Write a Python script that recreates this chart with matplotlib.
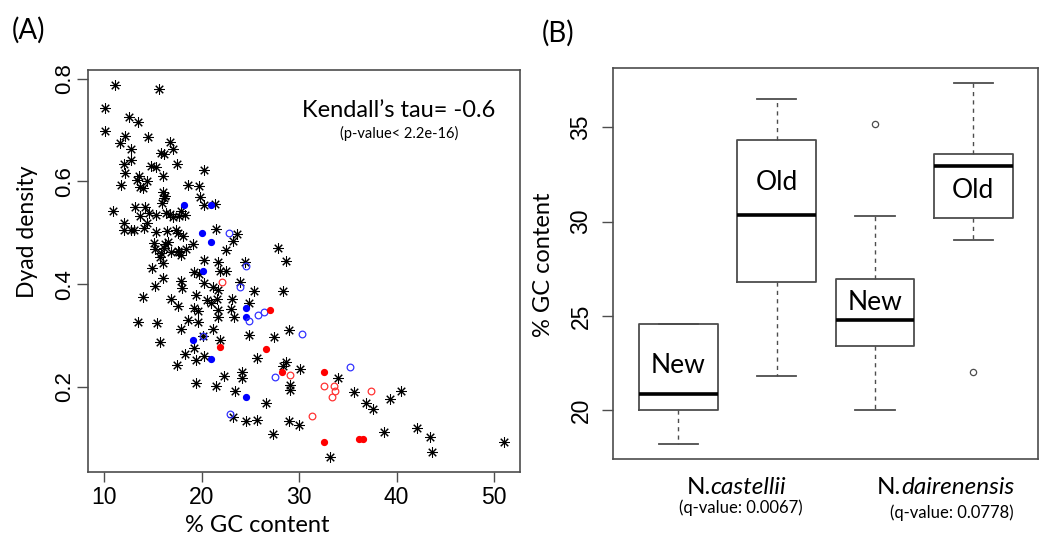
import numpy as np
import matplotlib.pyplot as plt

# Panel A: % GC content vs dyad density (black = all, blue/red = subsets)
gc_all = [11.17, 15.67, 10.14, 12.56, 13.52, 10.07, 14.50, 12.19, 11.60, 12.80,
          16.72, 17.03, 15.80, 16.14, 12.73, 12.00, 17.50, 14.78, 15.32, 12.19,
          20.23, 13.55, 13.35, 14.37, 16.08, 13.65, 11.78, 14.03, 18.60, 19.72,
          16.00, 16.28, 16.20, 19.82, 20.23, 21.40, 10.89, 13.17, 14.19, 13.68,
          14.60, 15.29, 16.34, 16.72, 17.85, 18.32, 17.67, 17.10, 12.05, 14.44,
          12.05, 12.73, 13.07, 14.09, 15.36, 16.49, 17.34, 17.57, 18.05, 21.53,
          23.65, 23.27, 15.12, 16.59, 16.21, 19.14, 18.39, 15.26, 15.80, 16.82,
          17.71, 17.92, 16.08, 22.52, 27.80, 28.62, 14.88, 24.43,
          15.93, 16.14, 17.57, 15.73, 20.23, 21.66,
          16.00, 17.85, 15.22, 19.20, 19.75, 21.87, 22.55, 18.02, 13.96, 16.82,
          17.57, 19.38, 20.23, 21.15, 21.66, 20.58, 20.99, 21.60, 19.20, 19.62,
          21.66, 21.66, 23.17, 23.06, 23.30, 23.91, 25.35, 24.90, 28.38, 18.66,
          19.62, 17.85, 21.15, 13.52, 15.39, 15.73, 20.10, 21.87, 24.90, 27.39,
          28.93, 19.20, 18.32, 19.41, 20.23, 17.44, 25.69, 28.62, 28.35, 30.05,
          24.12, 24.12, 22.28, 19.41, 21.46, 23.40, 29.10, 29.03, 26.57, 23.24,
          24.60, 25.69, 28.93, 29.99, 27.29,
          34.01, 35.65, 36.87, 37.56, 39.36, 40.42, 38.69, 42.06, 43.45, 43.63,
          50.99, 33.12]
dyad_all = [0.788, 0.780, 0.743, 0.726, 0.715, 0.699, 0.686, 0.689, 0.675, 0.664,
            0.677, 0.663, 0.656, 0.654, 0.641, 0.634, 0.635, 0.630, 0.628, 0.617,
            0.623, 0.611, 0.603, 0.600, 0.610, 0.590, 0.593, 0.587, 0.593, 0.591,
            0.580, 0.572, 0.567, 0.569, 0.555, 0.556, 0.542, 0.551, 0.550, 0.532,
            0.539, 0.534, 0.538, 0.537, 0.542, 0.534, 0.532, 0.530, 0.520, 0.520,
            0.506, 0.506, 0.506, 0.509, 0.501, 0.504, 0.505, 0.499, 0.493, 0.507,
            0.497, 0.484, 0.480, 0.483, 0.478, 0.479, 0.469, 0.468, 0.460, 0.463,
            0.462, 0.456, 0.442, 0.467, 0.470, 0.445, 0.432, 0.444,
            0.559, 0.470, 0.465, 0.453, 0.447, 0.444,
            0.412, 0.407, 0.397, 0.423, 0.420, 0.426, 0.426, 0.392, 0.376, 0.371,
            0.358, 0.379, 0.402, 0.394, 0.388, 0.369, 0.363, 0.371, 0.353, 0.347,
            0.350, 0.337, 0.371, 0.351, 0.337, 0.405, 0.386, 0.364, 0.386, 0.330,
            0.326, 0.313, 0.313, 0.327, 0.325, 0.288, 0.299, 0.292, 0.301, 0.297,
            0.311, 0.275, 0.264, 0.253, 0.260, 0.243, 0.256, 0.249, 0.240, 0.235,
            0.230, 0.217, 0.221, 0.207, 0.202, 0.193, 0.204, 0.194, 0.168, 0.142,
            0.134, 0.136, 0.134, 0.126, 0.108,
            0.218, 0.191, 0.168, 0.157, 0.177, 0.192, 0.113, 0.121, 0.102, 0.073,
            0.093, 0.063]

gc_blue_fill = [18.22, 20.99, 20.07, 20.95, 20.10, 24.60, 24.60, 19.14, 20.99, 24.60]
dyad_blue_fill = [0.555, 0.555, 0.499, 0.482, 0.426, 0.354, 0.337, 0.291, 0.255, 0.181]
gc_blue_open = [22.79, 24.57, 23.91, 24.87, 25.76, 26.38, 20.10, 30.30, 27.56, 22.96, 35.17]
dyad_blue_open = [0.500, 0.436, 0.395, 0.329, 0.340, 0.345, 0.299, 0.303, 0.220, 0.147, 0.238]
gc_red_fill = [27.05, 21.87, 26.64, 28.21, 32.58, 32.58, 36.13, 36.54]
dyad_red_fill = [0.350, 0.278, 0.273, 0.229, 0.230, 0.092, 0.098, 0.098]
gc_red_open = [22.07, 29.03, 31.32, 32.51, 33.60, 33.67, 33.33, 37.36]
dyad_red_open = [0.405, 0.223, 0.143, 0.201, 0.201, 0.192, 0.181, 0.192]

# Panel B: boxplot summaries
box_labels = ['New', 'Old', 'New', 'Old']
box_label_y = [22.36, 32.08, 25.70, 31.63]
box_q1 = [20.00, 26.81, 23.39, 30.19]
box_med = [20.88, 30.36, 24.77, 32.94]
box_q3 = [24.55, 34.30, 26.94, 33.59]
box_lo = [18.20, 21.82, 20.00, 29.04]
box_hi = [24.55, 36.49, 30.28, 37.34]
box_fliers = [[], [], [35.16], [22.03]]
species = ['castellii', 'dairenensis']
qvalues = ['0.0067', '0.0778']

W, H = 1050, 537
ANN = ['Lato', 'DejaVu Sans']
BOX = '#4d4d4d'
tickfont = {'family': ['Liberation Sans', 'DejaVu Sans']}

fig = plt.figure(figsize=(W / 100, H / 100), dpi=100)

# ---- panel A
axA = fig.add_axes([88 / W, 1 - 472 / H, (520 - 88) / W, (472 - 70) / H])
axA.plot(gc_all, dyad_all, linestyle='none', marker=(8, 2, 0), markersize=7.5,
         markeredgewidth=0.75, color='black')
axA.plot(gc_blue_fill, dyad_blue_fill, 'o', linestyle='none', markersize=4.2, color='#0000ff')
axA.plot(gc_blue_open, dyad_blue_open, 'o', linestyle='none', markersize=4.8,
         markerfacecolor='none', markeredgecolor='#3333ff', markeredgewidth=0.9)
axA.plot(gc_red_fill, dyad_red_fill, 'o', linestyle='none', markersize=4.2, color='#ff0000')
axA.plot(gc_red_open, dyad_red_open, 'o', linestyle='none', markersize=4.8,
         markerfacecolor='none', markeredgecolor='#ff3333', markeredgewidth=0.9)
axA.set_xlim(8.36, 52.64)
axA.set_ylim(0.0345, 0.817)
axA.set_xticks([10, 20, 30, 40, 50])
axA.set_yticks([0.2, 0.4, 0.6, 0.8])
axA.set_xticklabels(['10', '20', '30', '40', '50'], fontdict=tickfont, fontsize=16.5)
axA.set_yticklabels(['0.2', '0.4', '0.6', '0.8'], fontdict=tickfont, fontsize=16,
                    rotation=90, va='center')
axA.tick_params(axis='x', length=7, width=1, color=BOX, pad=3)
axA.tick_params(axis='y', length=8, width=1, color=BOX, pad=1)
for s in axA.spines.values():
    s.set_color(BOX)
    s.set_linewidth(1.2)
axA.text(0.72, 0.9, "Kendall\u2019s tau= -0.6", transform=axA.transAxes,
         ha='center', va='center', family=ANN, fontsize=17)
axA.text(0.72, 0.843, '(p-value< 2.2e-16)', transform=axA.transAxes,
         ha='center', va='center', family=ANN, fontsize=10.5)

fig.text(28 / W, 1 - 30 / H, '(A)', ha='center', va='center', family=ANN, fontsize=20)
fig.text(27 / W, 1 - 232 / H, 'Dyad density', rotation=90, ha='center', va='center',
         family=ANN, fontsize=16.5)
fig.text(257 / W, 1 - 525 / H, '% GC content', ha='center', va='center',
         family=ANN, fontsize=17)

# ---- panel B
axB = fig.add_axes([613.3 / W, 1 - 459 / H, (1038.3 - 613.3) / W, (459 - 68.3) / H])
stats = []
for i in range(4):
    stats.append(dict(q1=box_q1[i], med=box_med[i], q3=box_q3[i],
                      whislo=box_lo[i], whishi=box_hi[i], fliers=box_fliers[i]))
axB.bxp(stats, positions=[1, 2, 3, 4], widths=0.8, showfliers=True,
        boxprops=dict(color=BOX, linewidth=1.3),
        medianprops=dict(color='black', linewidth=2.6),
        whiskerprops=dict(color=BOX, linewidth=1, linestyle=(0, (3, 3))),
        capprops=dict(color=BOX, linewidth=1.3),
        capwidths=0.4,
        flierprops=dict(marker='o', markersize=4.5, markerfacecolor='none',
                        markeredgecolor=BOX, markeredgewidth=0.9))
axB.set_xlim(0.34, 4.66)
axB.set_ylim(17.43, 38.11)
axB.set_xticks([])
axB.set_yticks([20, 25, 30, 35])
axB.set_yticklabels(['20', '25', '30', '35'], fontdict=tickfont, fontsize=16.5,
                    rotation=90, va='center')
axB.tick_params(axis='y', length=8, width=1, color=BOX, pad=7)
for s in axB.spines.values():
    s.set_color(BOX)
    s.set_linewidth(1.2)

for i, lab in enumerate(box_labels):
    axB.text(i + 1, box_label_y[i], lab, ha='center', va='center', family=ANN, fontsize=19)

fig.text(558 / W, 1 - 33 / H, '(B)', ha='center', va='center', family=ANN, fontsize=20)
fig.text(543 / W, 1 - 265 / H, '% GC content', rotation=90, ha='center', va='center',
         family=ANN, fontsize=17)

sp_x = [738, 949]
sp_y = [487, 487]
q_x = [741, 952]
q_y = [508, 513]
for i, sp in enumerate(species):
    t = fig.text(0, 0, 'N.' + sp, family=ANN, fontsize=17.5, alpha=0)
    fig.canvas.draw()
    w = t.get_window_extent().width
    t.remove()
    x0 = (sp_x[i] - w / 2) / W
    t1 = fig.text(x0, 1 - sp_y[i] / H, 'N.', ha='left', va='center',
                  family=ANN, fontsize=17.5)
    plt.annotate(sp, xy=(1, 0.5), xycoords=t1, ha='left', va='center',
                 family=ANN, fontsize=17.5, style='italic')
    fig.text(q_x[i] / W, 1 - q_y[i] / H, '(q-value: ' + qvalues[i] + ')',
             ha='center', va='center', family=ANN, fontsize=12)

fig.savefig('out.png', dpi=100)
